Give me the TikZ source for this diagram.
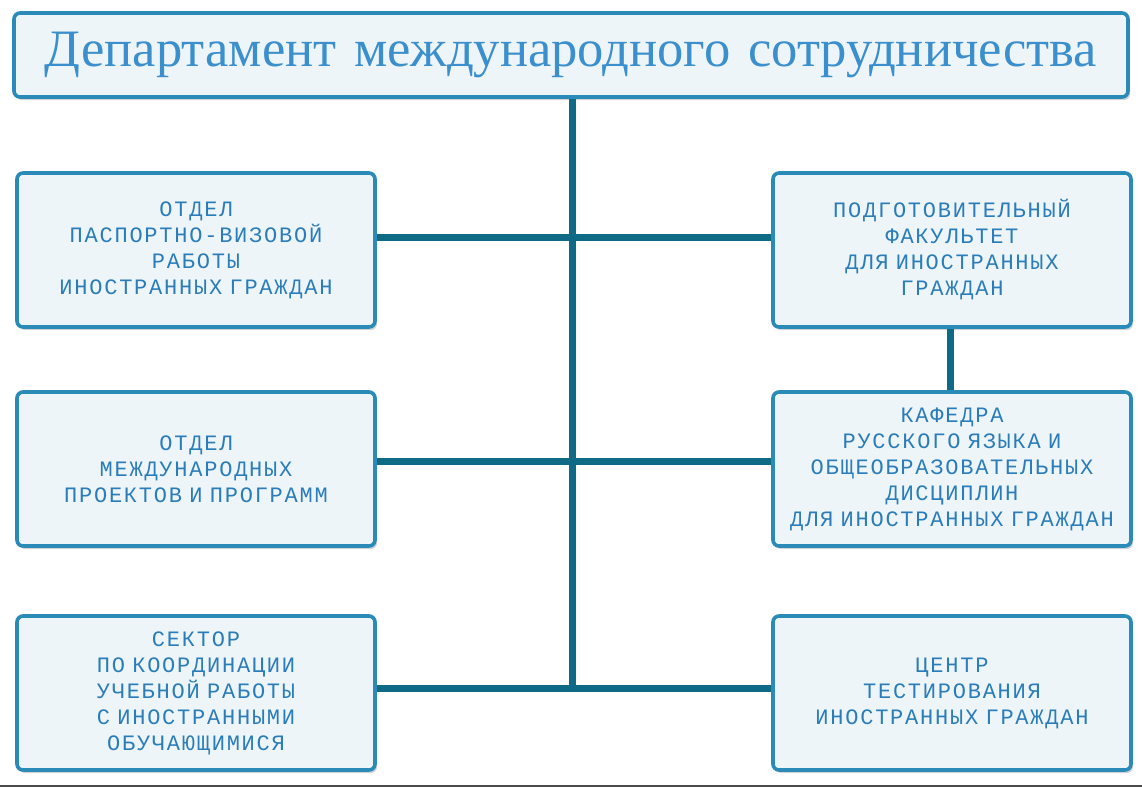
\documentclass[tikz,border=0pt]{standalone}
\usepackage{fontspec}
\setmainfont{Liberation Serif}
\newfontfamily\boxfont[LetterSpace=8]{Liberation Mono}
\usetikzlibrary{positioning,shadows}
\definecolor{linecol}{HTML}{0E6A85}
\definecolor{edgecol}{HTML}{2A8AB8}
\definecolor{textcol}{HTML}{2A7DB8}
\definecolor{headcol}{HTML}{3A8FCC}
\definecolor{boxfill}{HTML}{EEF5F9}
\begin{document}
\begin{tikzpicture}[x=0.5pt,y=-0.5pt,
  unit/.style={draw=edgecol,line width=1.8pt,fill=boxfill,rounded corners=3pt,
    text width=175pt,inner xsep=2pt,minimum height=77pt,align=center,text=textcol,
    font=\boxfont\fontsize{11}{13}\selectfont,
    drop shadow={shadow xshift=1pt,shadow yshift=-1.5pt,opacity=0.35}},
  head/.style={unit,text width=553pt,minimum height=42pt,text=headcol,
    font=\fontsize{26.3}{30}\selectfont},
  link/.style={draw=linecol,line width=3.5pt}
]
\useasboundingbox (0,0) rectangle (1142,789);
% title
\node[head] (dep) at (571,55) {Департамент международного сотрудничества};
% left column
\node[unit] (l1) at (196,250) {ОТДЕЛ\\ПАСПОРТНО-ВИЗОВОЙ\\РАБОТЫ\\ИНОСТРАННЫХ ГРАЖДАН};
\node[unit] (l2) at (196,469) {ОТДЕЛ\\МЕЖДУНАРОДНЫХ\\ПРОЕКТОВ И ПРОГРАММ};
\node[unit] (l3) at (196,693) {СЕКТОР\\ПО КООРДИНАЦИИ\\УЧЕБНОЙ РАБОТЫ\\С ИНОСТРАННЫМИ\\ОБУЧАЮЩИМИСЯ};
% right column
\node[unit] (r1) at (952,250) {ПОДГОТОВИТЕЛЬНЫЙ\\ФАКУЛЬТЕТ\\ДЛЯ ИНОСТРАННЫХ\\ГРАЖДАН};
\node[unit] (r2) at (952,469) {КАФЕДРА\\РУССКОГО ЯЗЫКА И\\ОБЩЕОБРАЗОВАТЕЛЬНЫХ\\ДИСЦИПЛИН\\ДЛЯ ИНОСТРАННЫХ ГРАЖДАН};
\node[unit] (r3) at (952,693) {ЦЕНТР\\ТЕСТИРОВАНИЯ\\ИНОСТРАННЫХ ГРАЖДАН};
% connectors
\coordinate (foot) at (572,688);
\draw[link] (dep.south -| foot) -- (foot);
\draw[link] (l1.east |- 0,237) -- (r1.west |- 0,237);
\draw[link] (l2.east |- 0,461) -- (r2.west |- 0,461);
\draw[link] (l3.east |- foot) -- (r3.west |- foot);
\draw[link] (r1.south -| 950,0) -- (r2.north -| 950,0);
\draw[black!70,line width=0.6pt] (0,786) -- (1142,786);
\end{tikzpicture}
\end{document}
